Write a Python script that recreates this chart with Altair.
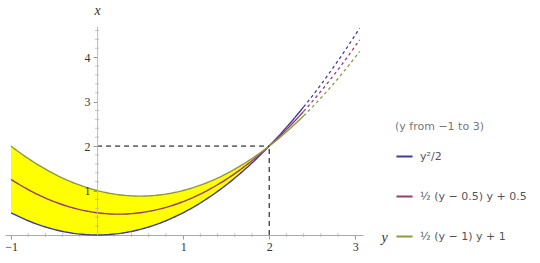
import altair as alt

# ---- data ----
Y_START, Y_STOP, Y_STEP = -1.0, 3.05, 0.025   # sampling of the parameter y
SOLID_END = 2.4                               # curves turn dashed after this y
FILL_END = 2.0                                # yellow band ends at the crossing
CROSS_Y, CROSS_X = [2.0], [2.0]               # marked point (y=2, x=2)
CURVE_KEYS = ["a", "b", "c"]
CURVE_EXPR = ["datum.y*datum.y/2",
              "0.5*(datum.y-0.5)*datum.y+0.5",
              "0.5*(datum.y-1)*datum.y+1"]
CURVE_LABELS = ["y²/2", "½ (y − 0.5) y + 0.5", "½ (y − 1) y + 1"]
COLORS = ["#3F3D99", "#993D71", "#8E9A3D"]
X_TICKS = [-1, 1, 2, 3]
Y_TICKS = [1, 2, 3, 4]
X_MINOR = [-0.8, -0.6, -0.4, -0.2, 0.2, 0.4, 0.6, 0.8, 1.2, 1.4, 1.6, 1.8,
           2.2, 2.4, 2.6, 2.8]
Y_MINOR = [0.2, 0.4, 0.6, 0.8, 1.2, 1.4, 1.6, 1.8, 2.2, 2.4, 2.6, 2.8,
           3.2, 3.4, 3.6, 3.8, 4.2, 4.4, 4.6]
X_DOMAIN = [-1.07, 3.09]
Y_DOMAIN = [0, 4.7]

W, H = 358, 209
OFFSET_Y_AXIS = -(0 - X_DOMAIN[0]) * W / (X_DOMAIN[1] - X_DOMAIN[0])

n = int(round((Y_STOP - Y_START) / Y_STEP)) + 1
base = alt.Chart(alt.sequence(0, n, 1, as_="i")).transform_calculate(
    y=f"{Y_START} + datum.i*{Y_STEP}"
)
for k, e in zip(CURVE_KEYS, CURVE_EXPR):
    base = base.transform_calculate(**{k: e})

xscale = alt.Scale(domain=X_DOMAIN, nice=False, zero=False)
yscale = alt.Scale(domain=Y_DOMAIN, nice=False, zero=False)

SERIF = "Liberation Serif"
xaxis = alt.Axis(values=X_TICKS, format="d", title="y", titleFont=SERIF,
                 titleFontStyle="italic", titleFontWeight="normal", titleFontSize=14,
                 titleColor="#333", titleX=W + 18, titleY=2, titleAlign="left",
                 titleBaseline="middle", labelFont=SERIF, labelFontSize=12,
                 labelColor="#333", domainColor="#aaa", tickColor="#999", tickSize=4,
                 grid=False, labelPadding=2)
yaxis = alt.Axis(values=Y_TICKS, format="d", title="x", titleFont=SERIF,
                 titleFontStyle="italic", titleFontWeight="normal", titleFontSize=14,
                 titleColor="#333", titleAngle=0, titleX=0, titleY=-16,
                 titleAlign="center", titleBaseline="middle",
                 labelFont=SERIF, labelFontSize=12, labelColor="#333",
                 domainColor="#bbb", tickColor="#999", tickSize=4, grid=False,
                 offset=OFFSET_Y_AXIS, zindex=1, labelPadding=3)

band = base.transform_filter(f"datum.y <= {FILL_END} + 1e-9").mark_area(
    color="#FFFF00", opacity=1
).encode(
    x=alt.X("y:Q", scale=xscale, axis=xaxis),
    y=alt.Y("a:Q", scale=yscale, axis=yaxis),
    y2="c:Q",
)

long = base.transform_fold(CURVE_KEYS, as_=["key", "val"]).transform_calculate(
    curve="{" + ",".join(f"'{k}':'{l}'" for k, l in zip(CURVE_KEYS, CURVE_LABELS)) + "}[datum.key]"
)

color = alt.Color("curve:N", scale=alt.Scale(domain=CURVE_LABELS, range=COLORS),
                  legend=alt.Legend(title="(y from −1 to 3)", orient="none",
                                    legendX=390, legendY=95, symbolType="stroke",
                                    symbolStrokeWidth=2, symbolSize=260,
                                    titleFont="DejaVu Sans", titleFontSize=11,
                                    titleFontWeight="normal", titleColor="#777",
                                    titleFontStyle="normal", titlePadding=15,
                                    labelFont="DejaVu Sans", labelFontSize=11,
                                    labelColor="#555", rowPadding=25, labelOffset=6))

solid = long.transform_filter(f"datum.y <= {SOLID_END} + 1e-9").mark_line(
    strokeWidth=1.4
).encode(x="y:Q", y="val:Q", color=color, detail="key:N")

dashed = long.transform_filter(f"datum.y >= {SOLID_END} - 1e-9").mark_line(
    strokeWidth=1.3, strokeDash=[3, 3]
).encode(x="y:Q", y="val:Q", color=color, detail="key:N")

pt = alt.Chart(alt.Data(values=[{"py": a, "px": b, "zero": 0}
                                for a, b in zip(CROSS_Y, CROSS_X)]))
hrule = pt.mark_rule(color="black", strokeDash=[5, 4], strokeWidth=1).encode(
    x="zero:Q", x2="py:Q", y="px:Q")
vrule = pt.mark_rule(color="black", strokeDash=[5, 4], strokeWidth=1).encode(
    x="py:Q", y="zero:Q", y2="px:Q")

xminor = alt.Chart(alt.Data(values=[{"p": v, "zero": 0} for v in X_MINOR])).mark_tick(
    orient="vertical", size=4, thickness=1, color="#aaa"
).encode(x="p:Q", y="zero:Q")
yminor = alt.Chart(alt.Data(values=[{"p": v, "zero": 0} for v in Y_MINOR])).mark_tick(
    orient="horizontal", size=4, thickness=1, color="#aaa"
).encode(y="p:Q", x="zero:Q")

chart = alt.layer(band, xminor, yminor, solid, dashed, hrule, vrule).properties(
    width=W, height=H, autosize=alt.AutoSizeParams(type="none"),
    padding={"left": 5, "top": 26, "right": 540 - 5 - W, "bottom": 263 - 26 - H},
).configure_view(stroke=None)

chart.save("out.html", embed_options={"renderer": "svg", "actions": False})
